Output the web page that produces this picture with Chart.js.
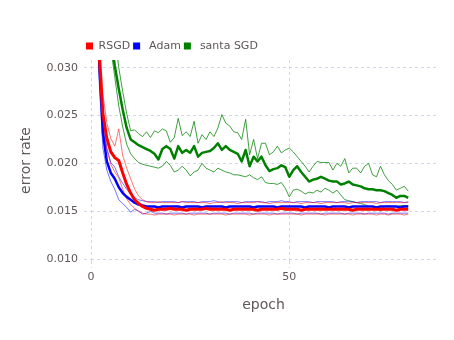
<!DOCTYPE html>
<html>
<head>
<meta charset="utf-8">
<script src="https://cdn.jsdelivr.net/npm/chart.js@4"></script>
<style>
  html, body { margin: 0; padding: 0; background: #fff; }
</style>
</head>
<body>
<canvas id="chart" width="454" height="340"></canvas>
<script>
// ===== data =====
const epochs = [
  1, 2, 3, 4, 5, 6, 7, 8, 9, 10,
  11, 12, 13, 14, 15, 16, 17, 18, 19, 20,
  21, 22, 23, 24, 25, 26, 27, 28, 29, 30,
  31, 32, 33, 34, 35, 36, 37, 38, 39, 40,
  41, 42, 43, 44, 45, 46, 47, 48, 49, 50,
  51, 52, 53, 54, 55, 56, 57, 58, 59, 60,
  61, 62, 63, 64, 65, 66, 67, 68, 69, 70,
  71, 72, 73, 74, 75, 76, 77, 78, 79, 80
];

const rsgdMean = [
  0.0620, 0.0318, 0.0252, 0.0226, 0.0212, 0.0206, 0.0203, 0.0190, 0.0178, 0.0169,
  0.0162, 0.0158, 0.0155, 0.0153, 0.0152, 0.0151, 0.0152, 0.0152, 0.0152, 0.0153,
  0.0152, 0.0152, 0.0152, 0.0151, 0.0152, 0.0152, 0.0152, 0.0152, 0.0153, 0.0152,
  0.0152, 0.0152, 0.0152, 0.0152, 0.0151, 0.0152, 0.0152, 0.0152, 0.0152, 0.0152,
  0.0152, 0.0151, 0.0152, 0.0152, 0.0152, 0.0152, 0.0152, 0.0153, 0.0152, 0.0152,
  0.0152, 0.0152, 0.0151, 0.0152, 0.0152, 0.0152, 0.0152, 0.0152, 0.0152, 0.0152,
  0.0152, 0.0152, 0.0152, 0.0152, 0.0152, 0.0151, 0.0152, 0.0152, 0.0152, 0.0152,
  0.0152, 0.0152, 0.0152, 0.0152, 0.0152, 0.0152, 0.0151, 0.0152, 0.0152, 0.0152
];
const rsgdUpper = [
  0.0660, 0.0340, 0.0272, 0.0242, 0.0226, 0.0218, 0.0236, 0.0208, 0.0195, 0.0184,
  0.0173, 0.0166, 0.0162, 0.0160, 0.0159, 0.0159, 0.0160, 0.0159, 0.0159, 0.0159,
  0.0159, 0.0159, 0.0160, 0.0159, 0.0159, 0.0159, 0.0159, 0.0159, 0.0159, 0.0158,
  0.0159, 0.0159, 0.0160, 0.0159, 0.0159, 0.0159, 0.0158, 0.0159, 0.0159, 0.0159,
  0.0159, 0.0160, 0.0159, 0.0159, 0.0158, 0.0159, 0.0159, 0.0159, 0.0159, 0.0159,
  0.0159, 0.0159, 0.0158, 0.0159, 0.0159, 0.0159, 0.0159, 0.0158, 0.0159, 0.0159,
  0.0159, 0.0159, 0.0159, 0.0159, 0.0158, 0.0159, 0.0159, 0.0159, 0.0159, 0.0159,
  0.0159, 0.0158, 0.0159, 0.0159, 0.0159, 0.0159, 0.0159, 0.0159, 0.0159, 0.0159
];
const rsgdLower = [
  0.0580, 0.0300, 0.0238, 0.0214, 0.0199, 0.0191, 0.0185, 0.0173, 0.0163, 0.0157,
  0.0153, 0.0150, 0.0148, 0.0147, 0.0147, 0.0146, 0.0147, 0.0147, 0.0147, 0.0147,
  0.0146, 0.0147, 0.0147, 0.0147, 0.0147, 0.0146, 0.0147, 0.0147, 0.0147, 0.0147,
  0.0147, 0.0147, 0.0147, 0.0146, 0.0147, 0.0147, 0.0147, 0.0147, 0.0147, 0.0146,
  0.0147, 0.0147, 0.0147, 0.0147, 0.0146, 0.0147, 0.0147, 0.0147, 0.0147, 0.0147,
  0.0147, 0.0147, 0.0146, 0.0147, 0.0147, 0.0147, 0.0147, 0.0147, 0.0146, 0.0147,
  0.0147, 0.0147, 0.0147, 0.0147, 0.0147, 0.0146, 0.0147, 0.0147, 0.0147, 0.0147,
  0.0147, 0.0146, 0.0147, 0.0147, 0.0146, 0.0147, 0.0147, 0.0147, 0.0146, 0.0147
];

const adamMean = [
  0.0580, 0.0312, 0.0232, 0.0202, 0.0190, 0.0184, 0.0175, 0.0169, 0.0165, 0.0162,
  0.0159, 0.0157, 0.0156, 0.0155, 0.0155, 0.0155, 0.0154, 0.0155, 0.0155, 0.0155,
  0.0155, 0.0155, 0.0154, 0.0155, 0.0155, 0.0155, 0.0155, 0.0154, 0.0155, 0.0155,
  0.0155, 0.0155, 0.0155, 0.0154, 0.0155, 0.0155, 0.0155, 0.0155, 0.0155, 0.0155,
  0.0154, 0.0155, 0.0155, 0.0155, 0.0155, 0.0155, 0.0154, 0.0155, 0.0155, 0.0155,
  0.0155, 0.0155, 0.0155, 0.0154, 0.0155, 0.0155, 0.0155, 0.0155, 0.0155, 0.0154,
  0.0155, 0.0155, 0.0155, 0.0155, 0.0154, 0.0155, 0.0155, 0.0155, 0.0155, 0.0155,
  0.0155, 0.0154, 0.0155, 0.0155, 0.0155, 0.0155, 0.0155, 0.0154, 0.0155, 0.0155
];
const adamUpper = [
  0.0620, 0.0330, 0.0246, 0.0216, 0.0201, 0.0196, 0.0186, 0.0179, 0.0173, 0.0168,
  0.0164, 0.0162, 0.0161, 0.0160, 0.0160, 0.0160, 0.0159, 0.0160, 0.0160, 0.0160,
  0.0160, 0.0159, 0.0160, 0.0160, 0.0160, 0.0160, 0.0159, 0.0160, 0.0160, 0.0160,
  0.0161, 0.0160, 0.0159, 0.0160, 0.0160, 0.0160, 0.0160, 0.0159, 0.0160, 0.0160,
  0.0160, 0.0160, 0.0160, 0.0159, 0.0160, 0.0160, 0.0160, 0.0161, 0.0160, 0.0160,
  0.0159, 0.0160, 0.0160, 0.0160, 0.0160, 0.0159, 0.0160, 0.0160, 0.0160, 0.0160,
  0.0160, 0.0159, 0.0160, 0.0160, 0.0160, 0.0160, 0.0159, 0.0160, 0.0160, 0.0160,
  0.0160, 0.0160, 0.0159, 0.0160, 0.0160, 0.0160, 0.0160, 0.0160, 0.0159, 0.0160
];
const adamLower = [
  0.0540, 0.0290, 0.0216, 0.0193, 0.0181, 0.0173, 0.0162, 0.0158, 0.0154, 0.0149,
  0.0152, 0.0150, 0.0147, 0.0148, 0.0150, 0.0148, 0.0148, 0.0148, 0.0147, 0.0148,
  0.0148, 0.0148, 0.0148, 0.0147, 0.0148, 0.0148, 0.0148, 0.0148, 0.0148, 0.0147,
  0.0148, 0.0148, 0.0148, 0.0148, 0.0147, 0.0148, 0.0148, 0.0148, 0.0148, 0.0148,
  0.0147, 0.0148, 0.0148, 0.0148, 0.0148, 0.0148, 0.0147, 0.0148, 0.0148, 0.0148,
  0.0148, 0.0147, 0.0148, 0.0148, 0.0148, 0.0148, 0.0148, 0.0147, 0.0148, 0.0148,
  0.0148, 0.0148, 0.0148, 0.0147, 0.0148, 0.0148, 0.0148, 0.0148, 0.0147, 0.0148,
  0.0148, 0.0148, 0.0148, 0.0148, 0.0147, 0.0148, 0.0148, 0.0148, 0.0148, 0.0148
];

const santaMean = [
  0.0850, 0.0550, 0.0420, 0.0360, 0.0330, 0.0302, 0.0278, 0.0256, 0.0237, 0.0225,
  0.0222, 0.0219, 0.0217, 0.0215, 0.0213, 0.0210, 0.0204, 0.0215, 0.0218, 0.0215,
  0.0205, 0.0218, 0.0211, 0.0214, 0.0211, 0.0218, 0.0207, 0.0211, 0.0212, 0.0213,
  0.0216, 0.0221, 0.0214, 0.0218, 0.0214, 0.0212, 0.0210, 0.0202, 0.0214, 0.0197,
  0.0207, 0.0202, 0.0207, 0.0198, 0.0192, 0.0194, 0.0195, 0.0198, 0.0196, 0.0186,
  0.0193, 0.0197, 0.0191, 0.0186, 0.0181, 0.0183, 0.0184, 0.0186, 0.0184, 0.0182,
  0.0181, 0.0181, 0.0178, 0.0179, 0.0181, 0.0178, 0.0177, 0.0176, 0.0174, 0.0173,
  0.0173, 0.0172, 0.0172, 0.0171, 0.0169, 0.0167, 0.0164, 0.0166, 0.0166, 0.0164
];
const santaUpper = [
  0.0950, 0.0620, 0.0470, 0.0400, 0.0360, 0.0335, 0.0300, 0.0275, 0.0252, 0.0234,
  0.0235, 0.0231, 0.0228, 0.0233, 0.0227, 0.0234, 0.0232, 0.0236, 0.0234, 0.0222,
  0.0227, 0.0247, 0.0229, 0.0233, 0.0228, 0.0244, 0.0221, 0.0230, 0.0225, 0.0233,
  0.0228, 0.0237, 0.0251, 0.0242, 0.0239, 0.0233, 0.0232, 0.0225, 0.0246, 0.0209,
  0.0225, 0.0205, 0.0221, 0.0221, 0.0209, 0.0212, 0.0218, 0.0211, 0.0214, 0.0216,
  0.0212, 0.0207, 0.0202, 0.0197, 0.0191, 0.0197, 0.0202, 0.0201, 0.0201, 0.0201,
  0.0193, 0.0200, 0.0197, 0.0205, 0.0190, 0.0195, 0.0195, 0.0190, 0.0197, 0.0200,
  0.0188, 0.0186, 0.0197, 0.0188, 0.0182, 0.0178, 0.0172, 0.0174, 0.0176, 0.0171
];
const santaLower = [
  0.0750, 0.0480, 0.0370, 0.0330, 0.0320, 0.0290, 0.0260, 0.0238, 0.0220, 0.0210,
  0.0205, 0.0201, 0.0199, 0.0198, 0.0197, 0.0196, 0.0195, 0.0197, 0.0202, 0.0198,
  0.0191, 0.0193, 0.0197, 0.0193, 0.0187, 0.0191, 0.0193, 0.0200, 0.0195, 0.0193,
  0.0191, 0.0195, 0.0193, 0.0191, 0.0190, 0.0188, 0.0188, 0.0187, 0.0186, 0.0188,
  0.0185, 0.0183, 0.0186, 0.0180, 0.0179, 0.0179, 0.0178, 0.0180, 0.0174, 0.0165,
  0.0172, 0.0173, 0.0171, 0.0168, 0.0170, 0.0169, 0.0172, 0.0170, 0.0174, 0.0172,
  0.0169, 0.0172, 0.0167, 0.0162, 0.0161, 0.0160, 0.0159, 0.0158, 0.0157, 0.0155,
  0.0155, 0.0155, 0.0150, 0.0155, 0.0156, 0.0155, 0.0155, 0.0156, 0.0156, 0.0156
];

const seriesNames = ['RSGD', ' Adam', ' santa SGD'];
const xTickStep = 50;
const yTickStep = 0.005;

// ===== styles =====
const textColor = '#5f5757';
const gridColor = 'rgb(212,212,234)';
Chart.defaults.font.family = "'DejaVu Sans', sans-serif";
Chart.defaults.font.size = 11;
Chart.defaults.color = textColor;

function pts(ys) {
    return epochs.map((x, i) => ({ x, y: ys[i] }));
}

function linha(label, ys, cor, largura) {
    return {
        label,
        data: pts(ys),
        borderColor: cor,
        backgroundColor: cor,
        borderWidth: largura,
        pointRadius: 0,
        tension: 0,
        clip: 0,
        borderJoinStyle: 'round'
    };
}

// legend box moved to where the original has it
const legendPlace = {
    id: 'legendPlace',
    beforeInit(chart) {
        const lg = chart.legend;
        const fit = lg.fit;
        lg.fit = function () { fit.call(this); this.height = 20; };
    },
    afterLayout(chart) {
        chart.legend.left = 83;
        chart.legend.top = 37.5;
    }
};

new Chart(document.getElementById('chart'), {
    type: 'line',
    data: {
        datasets: [
            linha(seriesNames[0], rsgdMean, '#ff0000', 3),
            linha(seriesNames[1], adamMean, '#0000ff', 2.5),
            linha(seriesNames[2], santaMean, '#008000', 2.5),
            linha('rsgd up', rsgdUpper, 'rgba(255,0,0,0.55)', 1),
            linha('rsgd low', rsgdLower, 'rgba(255,0,0,0.55)', 1),
            linha('adam up', adamUpper, 'rgba(0,0,255,0.55)', 1),
            linha('adam low', adamLower, 'rgba(0,0,255,0.55)', 1),
            linha('santa up', santaUpper, 'rgba(0,128,0,0.75)', 1),
            linha('santa low', santaLower, 'rgba(0,128,0,0.75)', 1)
        ]
    },
    options: {
        responsive: false,
        animation: false,
        events: [],
        layout: { padding: { top: 40, right: 18, bottom: 0, left: 0 } },
        plugins: {
            tooltip: { enabled: false },
            legend: {
                position: 'top',
                align: 'start',
                labels: {
                    boxWidth: 7,
                    boxHeight: 7,
                    padding: 3,
                    color: textColor,
                    font: { size: 11 },
                    generateLabels: chart => Chart.defaults.plugins.legend.labels.generateLabels(chart)
                        .filter(l => l.datasetIndex < 3)
                        .map(l => ({ ...l, lineWidth: 0, fillStyle: l.strokeStyle }))
                }
            }
        },
        scales: {
            x: {
                type: 'linear',
                min: 0,
                max: 87,
                ticks: { stepSize: xTickStep, includeBounds: false, padding: 3, color: textColor },
                grid: { color: gridColor, tickLength: 7, tickBorderDash: [3, 3] },
                border: { display: false, dash: [3, 3] },
                title: {
                    display: true, text: 'epoch', color: textColor,
                    font: { size: 14 }, padding: { top: 0, bottom: 26 }
                },
                afterFit: s => { s.height = 79; }
            },
            y: {
                min: 0.0098,
                max: 0.0308,
                ticks: {
                    stepSize: yTickStep, includeBounds: false, padding: 6, color: textColor,
                    callback: v => v.toFixed(3)
                },
                grid: { color: gridColor, tickLength: 7, tickBorderDash: [3, 3] },
                border: { display: false, dash: [3, 3] },
                title: {
                    display: true, text: 'error rate', color: textColor,
                    font: { size: 14 }, padding: { top: 18, bottom: 0 }
                },
                afterFit: s => { s.width = 91; }
            }
        }
    },
    plugins: [legendPlace]
});
</script>
</body>
</html>
